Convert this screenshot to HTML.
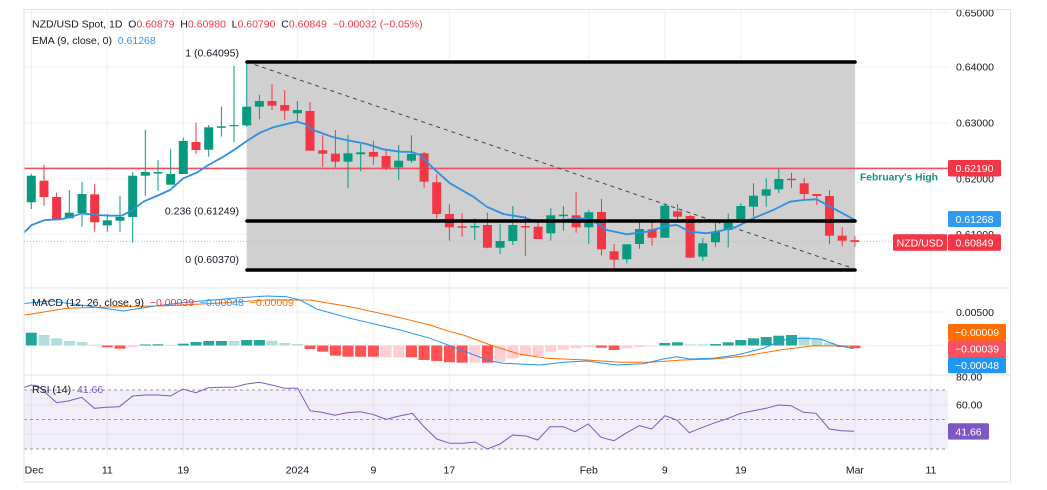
<!DOCTYPE html>
<html><head><meta charset="utf-8"><style>
html,body{margin:0;padding:0;background:#fff;}
svg{display:block;}
text{font-family:"Liberation Sans",sans-serif;font-size:10.5px;}
</style></head><body>
<svg width="1047" height="490" viewBox="0 0 1047 490" xmlns="http://www.w3.org/2000/svg">
<defs>
<clipPath id="main"><rect x="24" y="10" width="924" height="278"/></clipPath>
<clipPath id="axisTop"><rect x="948" y="10" width="62" height="470"/></clipPath>
</defs>
<rect width="1047" height="490" fill="#fff"/>
<!-- grid -->
<g stroke="#eef0f4" stroke-width="1">
<line x1="24" y1="12.5" x2="948" y2="12.5"/><line x1="24" y1="67" x2="948" y2="67"/><line x1="24" y1="123" x2="948" y2="123"/><line x1="24" y1="179" x2="948" y2="179"/><line x1="24" y1="234" x2="948" y2="234"/>
<line x1="24" y1="312" x2="948" y2="312"/><line x1="24" y1="345.5" x2="948" y2="345.5"/>
<line x1="24" y1="405" x2="948" y2="405"/><line x1="24" y1="434" x2="948" y2="434"/>
<line x1="31.3" y1="10" x2="31.3" y2="455"/><line x1="107.3" y1="10" x2="107.3" y2="455"/><line x1="183.3" y1="10" x2="183.3" y2="455"/><line x1="297.4" y1="10" x2="297.4" y2="455"/><line x1="373.4" y1="10" x2="373.4" y2="455"/><line x1="449.4" y1="10" x2="449.4" y2="455"/><line x1="588.8" y1="10" x2="588.8" y2="455"/><line x1="664.8" y1="10" x2="664.8" y2="455"/><line x1="740.8" y1="10" x2="740.8" y2="455"/><line x1="854.9" y1="10" x2="854.9" y2="455"/><line x1="930.9" y1="10" x2="930.9" y2="455"/>
</g>
<g stroke="#e0e3eb" stroke-width="1" fill="none">
<rect x="24" y="9.5" width="986.5" height="472.5"/>
<line x1="24" y1="288" x2="1010" y2="288"/>
<line x1="24" y1="375" x2="1010" y2="375"/>
</g>

<!-- fib zone -->
<rect x="246.7" y="62" width="608.3" height="208" fill="#d0d0d0"/>
<g clip-path="url(#main)">
<line x1="24" y1="241.5" x2="893" y2="241.5" stroke="#f7a1a8" stroke-width="1" stroke-dasharray="1 2"/>
<line x1="24" y1="168.4" x2="948" y2="168.4" stroke="#f0505c" stroke-width="1.6"/>
<line x1="247" y1="62" x2="852" y2="268" stroke="#444" stroke-width="1" stroke-dasharray="4 4"/>
<g stroke-width="1">
<g stroke="#089981" fill="#089981">
<line x1="31.3" y1="174" x2="31.3" y2="209"/><rect x="26.8" y="175.7" width="9" height="26.6" stroke="none"/>
<line x1="69.3" y1="190" x2="69.3" y2="218.3"/><rect x="64.8" y="212.7" width="9" height="5.6" stroke="none"/>
<line x1="82" y1="182" x2="82" y2="226.7"/><rect x="77.5" y="194" width="9" height="19" stroke="none"/>
<line x1="107.3" y1="214" x2="107.3" y2="231.7"/><rect x="102.8" y="220.3" width="9" height="5" stroke="none"/>
<line x1="120" y1="195.7" x2="120" y2="231.7"/><rect x="115.5" y="217" width="9" height="3.7" stroke="none"/>
<line x1="132.7" y1="172" x2="132.7" y2="242.7"/><rect x="128.2" y="175.7" width="9" height="41.3" stroke="none"/>
<line x1="145.3" y1="130" x2="145.3" y2="195.7"/><rect x="140.8" y="172" width="9" height="3.7" stroke="none"/>
<line x1="158" y1="160" x2="158" y2="190.7"/><rect x="153.5" y="172" width="9" height="1.5" stroke="none"/>
<line x1="170.7" y1="149" x2="170.7" y2="184.7"/><rect x="166.2" y="174" width="9" height="10.7" stroke="none"/>
<line x1="183.3" y1="137.7" x2="183.3" y2="174"/><rect x="178.8" y="141" width="9" height="33" stroke="none"/>
<line x1="208.7" y1="125" x2="208.7" y2="156.7"/><rect x="204.2" y="127.3" width="9" height="22.4" stroke="none"/>
<line x1="221.4" y1="106.7" x2="221.4" y2="136.7"/><rect x="216.9" y="126.3" width="9" height="1.5" stroke="none"/>
<line x1="234" y1="65.7" x2="234" y2="142.3"/><rect x="229.5" y="125" width="9" height="1.2" stroke="none"/>
<line x1="246.7" y1="63.3" x2="246.7" y2="126.7"/><rect x="242.2" y="106.7" width="9" height="18.6" stroke="none"/>
<line x1="259.4" y1="95" x2="259.4" y2="119.3"/><rect x="254.9" y="101" width="9" height="5.7" stroke="none"/>
<line x1="297.4" y1="101" x2="297.4" y2="122.7"/><rect x="292.9" y="110" width="9" height="3.3" stroke="none"/>
<line x1="348" y1="135" x2="348" y2="188.3"/><rect x="343.5" y="153.3" width="9" height="8.4" stroke="none"/>
<line x1="360.7" y1="144" x2="360.7" y2="171.3"/><rect x="356.2" y="152.3" width="9" height="2" stroke="none"/>
<line x1="398.7" y1="145" x2="398.7" y2="180"/><rect x="394.2" y="160.7" width="9" height="6.6" stroke="none"/>
<line x1="411.4" y1="135.3" x2="411.4" y2="162.7"/><rect x="406.9" y="154" width="9" height="6.7" stroke="none"/>
<line x1="474.8" y1="218.3" x2="474.8" y2="240"/><rect x="470.3" y="226" width="9" height="1.5" stroke="none"/>
<line x1="500.1" y1="224.3" x2="500.1" y2="254"/><rect x="495.6" y="241" width="9" height="6.7" stroke="none"/>
<line x1="512.8" y1="206" x2="512.8" y2="245"/><rect x="508.3" y="225" width="9" height="16" stroke="none"/>
<line x1="550.8" y1="208.3" x2="550.8" y2="240.7"/><rect x="546.3" y="215.3" width="9" height="18" stroke="none"/>
<line x1="563.4" y1="206" x2="563.4" y2="230.7"/><rect x="558.9" y="214.7" width="9" height="1.5" stroke="none"/>
<line x1="588.8" y1="210" x2="588.8" y2="244"/><rect x="584.3" y="212.3" width="9" height="15" stroke="none"/>
<line x1="626.8" y1="244.3" x2="626.8" y2="263.3"/><rect x="622.3" y="244.3" width="9" height="15" stroke="none"/>
<line x1="639.5" y1="220.7" x2="639.5" y2="248.7"/><rect x="635" y="229" width="9" height="15" stroke="none"/>
<line x1="664.8" y1="203.3" x2="664.8" y2="237.7"/><rect x="660.3" y="205.7" width="9" height="32" stroke="none"/>
<line x1="702.8" y1="238.3" x2="702.8" y2="261"/><rect x="698.3" y="243.3" width="9" height="13.4" stroke="none"/>
<line x1="715.5" y1="222.7" x2="715.5" y2="246.7"/><rect x="711" y="231.7" width="9" height="10.6" stroke="none"/>
<line x1="728.2" y1="213.3" x2="728.2" y2="247.3"/><rect x="723.7" y="220" width="9" height="10" stroke="none"/>
<line x1="740.8" y1="203.3" x2="740.8" y2="221.7"/><rect x="736.3" y="206" width="9" height="14" stroke="none"/>
<line x1="753.5" y1="183.3" x2="753.5" y2="216.7"/><rect x="749" y="195.7" width="9" height="11" stroke="none"/>
<line x1="766.2" y1="178.3" x2="766.2" y2="206.7"/><rect x="761.7" y="189.3" width="9" height="6.4" stroke="none"/>
<line x1="778.8" y1="169" x2="778.8" y2="193.3"/><rect x="774.3" y="179" width="9" height="10.3" stroke="none"/>
</g>
<g stroke="#f23645" fill="#f23645">
<line x1="44" y1="165" x2="44" y2="205.7"/><rect x="39.5" y="180.7" width="9" height="16.3" stroke="none"/>
<line x1="56.6" y1="192.7" x2="56.6" y2="219"/><rect x="52.1" y="197" width="9" height="22" stroke="none"/>
<line x1="94.7" y1="184" x2="94.7" y2="231.7"/><rect x="90.2" y="194.3" width="9" height="28" stroke="none"/>
<line x1="196" y1="122.7" x2="196" y2="154.3"/><rect x="191.5" y="142" width="9" height="8" stroke="none"/>
<line x1="272" y1="84" x2="272" y2="110"/><rect x="267.5" y="101" width="9" height="4.7" stroke="none"/>
<line x1="284.7" y1="90" x2="284.7" y2="120"/><rect x="280.2" y="105" width="9" height="5.7" stroke="none"/>
<line x1="310" y1="102" x2="310" y2="150.7"/><rect x="305.5" y="111" width="9" height="39.7" stroke="none"/>
<line x1="322.7" y1="135.3" x2="322.7" y2="166.7"/><rect x="318.2" y="150.3" width="9" height="3.4" stroke="none"/>
<line x1="335.4" y1="130" x2="335.4" y2="167.3"/><rect x="330.9" y="153.7" width="9" height="8" stroke="none"/>
<line x1="373.4" y1="140.7" x2="373.4" y2="165"/><rect x="368.9" y="152" width="9" height="4.7" stroke="none"/>
<line x1="386.1" y1="149.3" x2="386.1" y2="170"/><rect x="381.6" y="156" width="9" height="11.7" stroke="none"/>
<line x1="424.1" y1="151.7" x2="424.1" y2="187.7"/><rect x="419.6" y="153.3" width="9" height="28.4" stroke="none"/>
<line x1="436.7" y1="174.3" x2="436.7" y2="218.3"/><rect x="432.2" y="182.3" width="9" height="31.7" stroke="none"/>
<line x1="449.4" y1="204.3" x2="449.4" y2="240.7"/><rect x="444.9" y="214" width="9" height="13.3" stroke="none"/>
<line x1="462.1" y1="213.3" x2="462.1" y2="236.7"/><rect x="457.6" y="226.3" width="9" height="1.5" stroke="none"/>
<line x1="487.4" y1="212.7" x2="487.4" y2="248.3"/><rect x="482.9" y="225" width="9" height="22.7" stroke="none"/>
<line x1="525.4" y1="216" x2="525.4" y2="255.7"/><rect x="520.9" y="226" width="9" height="1.5" stroke="none"/>
<line x1="538.1" y1="222.7" x2="538.1" y2="239"/><rect x="533.6" y="226.7" width="9" height="12.3" stroke="none"/>
<line x1="576.1" y1="192.3" x2="576.1" y2="232.7"/><rect x="571.6" y="215.3" width="9" height="12" stroke="none"/>
<line x1="601.5" y1="199" x2="601.5" y2="255.5"/><rect x="597" y="212" width="9" height="37.3" stroke="none"/>
<line x1="614.1" y1="244" x2="614.1" y2="268.3"/><rect x="609.6" y="251.3" width="9" height="8.4" stroke="none"/>
<line x1="652.1" y1="220" x2="652.1" y2="245.7"/><rect x="647.6" y="229.3" width="9" height="8.4" stroke="none"/>
<line x1="677.5" y1="204" x2="677.5" y2="221.7"/><rect x="673" y="211.3" width="9" height="5.4" stroke="none"/>
<line x1="690.1" y1="215" x2="690.1" y2="257.7"/><rect x="685.6" y="216" width="9" height="41.7" stroke="none"/>
<line x1="791.5" y1="172.7" x2="791.5" y2="188.3"/><rect x="787" y="178.7" width="9" height="1.5" stroke="none"/>
<line x1="804.2" y1="178.3" x2="804.2" y2="199"/><rect x="799.7" y="183.3" width="9" height="10.7" stroke="none"/>
<line x1="816.8" y1="194" x2="816.8" y2="205"/><rect x="812.3" y="194" width="9" height="2" stroke="none"/>
<line x1="829.5" y1="190" x2="829.5" y2="244.3"/><rect x="825" y="196" width="9" height="39.7" stroke="none"/>
<line x1="842.2" y1="227.3" x2="842.2" y2="246.7"/><rect x="837.7" y="235.7" width="9" height="5" stroke="none"/>
<line x1="854.9" y1="236.1" x2="854.9" y2="246.8"/><rect x="850.4" y="240.2" width="9" height="1.7" stroke="none"/>
</g>
</g>
<polyline fill="none" stroke="#2f8fe0" stroke-width="1.8" stroke-linejoin="round" points="24,232.5 31.7,225 45,220 60,219.3 70,217.3 81.7,213.3 96.7,215 110,215.7 121.7,215.7 131.7,210.7 143.3,201.7 156.7,196 170,190 183.3,178.3 196.7,172.7 208.3,165 221.7,157.7 235,149.3 248.3,140 260,132.7 273.3,127.3 286.7,124 297,121.7 305,124 313.3,130 333.3,137.3 350,140.7 366.7,144 383.3,149.3 400,151.7 411.7,152 420,155 433.3,168.3 450,183.3 473.3,196.7 486.7,206.7 503.3,214 523.3,217.3 536.7,221.7 553.3,221 570,219.3 586.7,218.3 600,225 606.7,230 626.7,234.3 646.7,231.7 666.7,226 676.7,225 690,231.7 706.7,233.3 720,231 736.7,226.7 753.3,218.3 773.3,210 790,201.7 803.3,200 816.7,199.3 833.3,208.3 855,220"/>
<g stroke="#000" stroke-width="3.6" stroke-linecap="round">
<line x1="247" y1="62" x2="855" y2="62"/>
<line x1="247" y1="221" x2="855" y2="221"/>
<line x1="247" y1="270" x2="855" y2="270"/>
</g>
</g>
<g fill="#131722" text-anchor="end">
<text x="239" y="56.5">1 (0.64095)</text>
<text x="239" y="214.5">0.236 (0.61249)</text>
<text x="239" y="263">0 (0.60370)</text>
</g>
<text x="860" y="180.5" fill="#18947f" style="font-weight:bold;font-size:10.3px">February's High</text>

<text x="32" y="27.7" fill="#131722" xml:space="preserve">NZD/USD Spot, 1D  O<tspan fill="#f23645">0.60879</tspan>  H<tspan fill="#f23645">0.60980</tspan>  L<tspan fill="#f23645">0.60790</tspan>  C<tspan fill="#f23645">0.60849</tspan>  <tspan fill="#f23645">−0.00032 (−0.05%)</tspan></text>
<text x="32" y="44" fill="#131722" xml:space="preserve">EMA (9, close, 0)  <tspan fill="#2e96e8">0.61268</tspan></text>

<g>
<g stroke="none">
<rect x="25.8" y="332.7" width="11" height="12.8" fill="#26a69a"/>
<rect x="38.5" y="335" width="11" height="10.5" fill="#b2dfdb"/>
<rect x="51.1" y="338.3" width="11" height="7.2" fill="#b2dfdb"/>
<rect x="63.8" y="341" width="11" height="4.5" fill="#b2dfdb"/>
<rect x="76.5" y="342" width="11" height="3.5" fill="#b2dfdb"/>
<rect x="89.2" y="344.8" width="11" height="0.7" fill="#b2dfdb"/>
<rect x="101.8" y="345.5" width="11" height="1.8" fill="#ff5252"/>
<rect x="114.5" y="345.5" width="11" height="3.2" fill="#ff5252"/>
<rect x="127.2" y="345.5" width="11" height="1.8" fill="#ffcdd2"/>
<rect x="139.8" y="344.5" width="11" height="1" fill="#26a69a"/>
<rect x="152.5" y="344.3" width="11" height="1.2" fill="#26a69a"/>
<rect x="165.2" y="344.8" width="11" height="0.7" fill="#b2dfdb"/>
<rect x="177.8" y="343.7" width="11" height="1.8" fill="#26a69a"/>
<rect x="190.5" y="342" width="11" height="3.5" fill="#26a69a"/>
<rect x="203.2" y="341" width="11" height="4.5" fill="#26a69a"/>
<rect x="215.9" y="341" width="11" height="4.5" fill="#26a69a"/>
<rect x="228.5" y="341" width="11" height="4.5" fill="#b2dfdb"/>
<rect x="241.2" y="340" width="11" height="5.5" fill="#26a69a"/>
<rect x="253.9" y="340" width="11" height="5.5" fill="#26a69a"/>
<rect x="266.5" y="340.7" width="11" height="4.8" fill="#b2dfdb"/>
<rect x="279.2" y="343" width="11" height="2.5" fill="#b2dfdb"/>
<rect x="291.9" y="344" width="11" height="1.5" fill="#b2dfdb"/>
<rect x="304.5" y="345.5" width="11" height="3.5" fill="#ff5252"/>
<rect x="317.2" y="345.5" width="11" height="6.2" fill="#ff5252"/>
<rect x="329.9" y="345.5" width="11" height="10.2" fill="#ff5252"/>
<rect x="342.5" y="345.5" width="11" height="11.2" fill="#ff5252"/>
<rect x="355.2" y="345.5" width="11" height="11.2" fill="#ff5252"/>
<rect x="367.9" y="345.5" width="11" height="11.2" fill="#ff5252"/>
<rect x="380.6" y="345.5" width="11" height="11.8" fill="#ffcdd2"/>
<rect x="393.2" y="345.5" width="11" height="11.8" fill="#ffcdd2"/>
<rect x="405.9" y="345.5" width="11" height="11.8" fill="#ff5252"/>
<rect x="418.6" y="345.5" width="11" height="14.5" fill="#ff5252"/>
<rect x="431.2" y="345.5" width="11" height="15.5" fill="#ff5252"/>
<rect x="443.9" y="345.5" width="11" height="16.8" fill="#ff5252"/>
<rect x="456.6" y="345.5" width="11" height="17.2" fill="#ff5252"/>
<rect x="469.3" y="345.5" width="11" height="16.8" fill="#ffcdd2"/>
<rect x="481.9" y="345.5" width="11" height="17.2" fill="#ff5252"/>
<rect x="494.6" y="345.5" width="11" height="16.2" fill="#ffcdd2"/>
<rect x="507.3" y="345.5" width="11" height="12.8" fill="#ffcdd2"/>
<rect x="519.9" y="345.5" width="11" height="10.5" fill="#ffcdd2"/>
<rect x="532.6" y="345.5" width="11" height="10.5" fill="#ffcdd2"/>
<rect x="545.3" y="345.5" width="11" height="6.2" fill="#ffcdd2"/>
<rect x="557.9" y="345.5" width="11" height="4.2" fill="#ffcdd2"/>
<rect x="570.6" y="345.5" width="11" height="2.8" fill="#ffcdd2"/>
<rect x="583.3" y="345.5" width="11" height="1.5" fill="#ffcdd2"/>
<rect x="596" y="345.5" width="11" height="2.2" fill="#ff5252"/>
<rect x="608.6" y="345.5" width="11" height="4.5" fill="#ff5252"/>
<rect x="621.3" y="345.5" width="11" height="2.8" fill="#ffcdd2"/>
<rect x="634" y="345.5" width="11" height="1.5" fill="#ffcdd2"/>
<rect x="646.6" y="345.5" width="11" height="0.8" fill="#ffcdd2"/>
<rect x="659.3" y="343" width="11" height="2.5" fill="#26a69a"/>
<rect x="672" y="342.3" width="11" height="3.2" fill="#26a69a"/>
<rect x="684.6" y="344.3" width="11" height="1.2" fill="#b2dfdb"/>
<rect x="697.3" y="344.3" width="11" height="1.2" fill="#b2dfdb"/>
<rect x="710" y="344" width="11" height="1.5" fill="#26a69a"/>
<rect x="722.7" y="342.3" width="11" height="3.2" fill="#26a69a"/>
<rect x="735.3" y="340" width="11" height="5.5" fill="#26a69a"/>
<rect x="748" y="338.3" width="11" height="7.2" fill="#26a69a"/>
<rect x="760.7" y="337" width="11" height="8.5" fill="#26a69a"/>
<rect x="773.3" y="335.7" width="11" height="9.8" fill="#26a69a"/>
<rect x="786" y="335" width="11" height="10.5" fill="#26a69a"/>
<rect x="798.7" y="336.7" width="11" height="8.8" fill="#b2dfdb"/>
<rect x="811.3" y="338.3" width="11" height="7.2" fill="#b2dfdb"/>
<rect x="824" y="343" width="11" height="2.5" fill="#b2dfdb"/>
<rect x="836.7" y="345.5" width="11" height="1.5" fill="#ff5252"/>
<rect x="849.4" y="345.5" width="11" height="2.8" fill="#ff5252"/>
</g>
<polyline fill="none" stroke="#ff6d00" stroke-width="1" points="24,315.3 66.7,308.3 116.7,306.7 166.7,305.7 216.7,303.3 266.7,300 310,300 350,306.7 400,317.7 430,325 450,331.7 463.3,335 493.3,346 520,354.3 546.7,358.3 586.7,360 620,362.3 650,362.3 683.3,360 713.3,359 746.7,355.7 780,350 813.3,345.7 853.3,346"/>
<polyline fill="none" stroke="#2196f3" stroke-width="1" points="24,303.5 50,301 86.7,305.7 123.3,311 156.7,305.7 186.7,302.3 233.3,298.3 266.7,296 286.7,296.7 300,300 316.7,309 350,318.3 400,330 430,338.3 456.7,348.3 490,361 503.3,363.3 540,365 563.3,362.3 586.7,361 616.7,365 643.3,363.7 663.3,359 676.7,356.7 690,359 713.3,358.3 736.7,355 763.3,348.3 783.3,340 800,338.3 820,339 836.7,345 853.3,348.7"/>
<text x="32" y="306" fill="#131722" xml:space="preserve">MACD (12, 26, close, 9)  <tspan fill="#f23645">−0.00039</tspan>  <tspan fill="#2196f3">−0.00048</tspan>  <tspan fill="#ff6d00">−0.00009</tspan></text>
</g>

<rect x="24" y="390" width="924" height="59" fill="#7e57c2" fill-opacity="0.1"/>
<g stroke="#9598a1" stroke-width="1" stroke-dasharray="3 3">
<line x1="24" y1="390" x2="948" y2="390"/>
<line x1="24" y1="419.5" x2="948" y2="419.5"/>
<line x1="24" y1="449" x2="948" y2="449"/>
</g>
<polyline fill="none" stroke="#7e57c2" stroke-width="1" points="24,387.5 31,385 38,386 56.7,402.7 68.3,401 81.7,397.3 94.3,408.3 106.7,407.3 119.3,406.7 132.7,396 145,395 158.3,395 170.7,396 182.7,389 196,392.7 208.3,387.7 221,387.3 233.3,387.3 246.7,384 259.3,382.3 271.7,385 285,388.3 297.7,388.3 310,410.7 321.7,412.3 335,415.3 346.7,412.7 360,411.7 372.7,414.3 386,419.3 399.3,416 412.3,413.3 423.3,426 436.7,439 450,443.3 463.3,443.3 475,442 487.3,449 500,444 512.7,435 526,436 537.7,440 550,426.7 563.3,426.7 575,431.7 588.3,424 601,437.3 614,440.7 626.7,432.7 639.3,425.7 651.7,429 665,415.7 676.7,420 689.3,432.7 702.7,427.3 715,422.7 728.3,418.3 740.7,413.3 753.3,410.7 766,408.3 778.3,405 791,405.7 803.3,412.3 816,413.3 829.3,429 841.7,430.7 854,431.3"/>
<text x="32" y="393" fill="#131722" xml:space="preserve">RSI (14)  <tspan fill="#7e57c2">41.66</tspan></text>

<g fill="#131722" clip-path="url(#axisTop)">
<text x="956" y="16.7">0.65000</text>
<text x="956" y="70.7">0.64000</text>
<text x="956" y="126.4">0.63000</text>
<text x="956" y="182.4">0.62000</text>
<text x="956" y="237.8">0.61000</text>
<text x="956" y="316">0.00500</text>
<text x="956" y="380.7">80.00</text>
<text x="956" y="408.7">60.00</text>
</g>
<rect x="948" y="160" width="53" height="16.5" rx="1.5" fill="#f23645"/>
<text x="974.5" y="172" fill="#fff" text-anchor="middle">0.62190</text>
<rect x="948" y="211" width="53" height="16" rx="1.5" fill="#2e9bf0"/>
<text x="974.5" y="222.8" fill="#fff" text-anchor="middle">0.61268</text>
<rect x="893" y="234.3" width="54.3" height="16.4" rx="1.5" fill="#f23645"/>
<text x="920" y="246.3" fill="#fff" text-anchor="middle">NZD/USD</text>
<rect x="948" y="234.3" width="53" height="16.4" rx="1.5" fill="#f23645"/>
<text x="974.5" y="246.3" fill="#fff" text-anchor="middle">0.60849</text>
<rect x="948" y="324" width="58" height="16.5" rx="1.5" fill="#ff6d00"/>
<text x="977" y="336" fill="#fff" text-anchor="middle">−0.00009</text>
<rect x="948" y="340.5" width="58" height="16.5" rx="1.5" fill="#f7525f"/>
<text x="977" y="352.5" fill="#fff" text-anchor="middle">−0.00039</text>
<rect x="948" y="357" width="58" height="16.3" rx="1.5" fill="#2196f3"/>
<text x="977" y="369" fill="#fff" text-anchor="middle">−0.00048</text>
<rect x="948" y="423.3" width="41" height="16.3" rx="1.5" fill="#7e57c2"/>
<text x="968.5" y="435.3" fill="#fff" text-anchor="middle">41.66</text>

<rect x="24.5" y="455" width="923" height="26" fill="#fff"/>
<g fill="#131722" text-anchor="middle">
<text x="34" y="473.7">Dec</text>
<text x="107.3" y="473.7">11</text>
<text x="183.3" y="473.7">19</text>
<text x="297.4" y="473.7">2024</text>
<text x="373.4" y="473.7">9</text>
<text x="449.4" y="473.7">17</text>
<text x="588.8" y="473.7">Feb</text>
<text x="664.8" y="473.7">9</text>
<text x="740.8" y="473.7">19</text>
<text x="854.9" y="473.7">Mar</text>
<text x="930.9" y="473.7">11</text>
</g>
<rect x="0" y="455" width="24" height="30" fill="#fff"/>
<line x1="24" y1="9.5" x2="24" y2="482" stroke="#e0e3eb"/>
</svg>
</body></html>
